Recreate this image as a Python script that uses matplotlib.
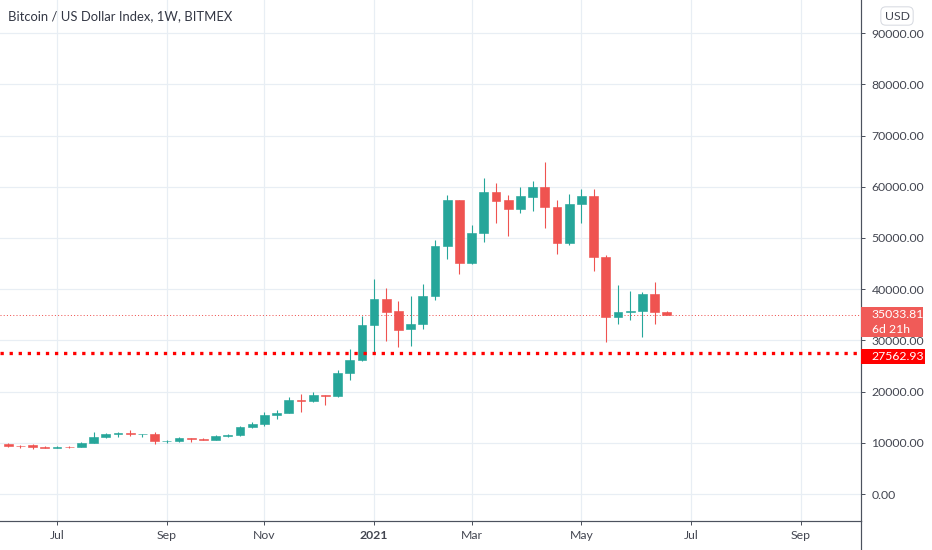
import matplotlib
matplotlib.use("Agg")
import matplotlib.pyplot as plt
import matplotlib.transforms as mtransforms
from matplotlib.patches import Rectangle
from matplotlib.lines import Line2D
import pandas as pd

# weekly candles, BTC / USD index (BITMEX), weeks starting Monday
first_week = "2020-06-08"
opens = [9750, 9380, 9480, 9180, 9080, 9250, 9160, 9900, 11100, 11700,
         11900, 11650, 11700, 10300, 10330, 10900, 10750, 10600, 11350, 11450,
         13000, 13650, 15450, 15900, 18450, 18200, 19300, 19150, 23550, 26200,
         33100, 38100, 35700, 32200, 33150, 38750, 48500, 57400, 45100, 50900,
         58900, 57400, 55700, 58100, 60000, 56100, 49100, 56600, 58200, 46300,
         34650, 35450, 35750, 39000, 35550]
highs = [9990, 9560, 9800, 9300, 9450, 9300, 10150, 12100, 11900, 12150,
         12480, 11750, 12080, 10580, 11100, 10950, 10950, 11450, 11720, 13300,
         14000, 15960, 16500, 18900, 19500, 19880, 19420, 24300, 28250, 34800,
         41990, 40170, 37700, 38650, 40950, 49600, 58400, 57500, 52500, 61800,
         60700, 58400, 60000, 61200, 64800, 57500, 58600, 59600, 59600, 46700,
         40800, 39650, 39400, 41350, 35800]
lows = [9250, 8950, 8850, 8950, 9050, 9050, 9100, 9900, 10950, 11100,
        11330, 11050, 9850, 9900, 10250, 10100, 10450, 10550, 11200, 11400,
        12800, 13250, 14600, 15800, 16100, 18000, 17400, 18900, 22250, 25900,
        27800, 29950, 28650, 28950, 32250, 37900, 45900, 42900, 45000, 49300,
        53000, 50300, 54800, 55300, 52000, 46800, 48700, 52900, 43600, 29750,
        33200, 34000, 30700, 33200, 34900]
closes = [9380, 9300, 9180, 9080, 9250, 9160, 9900, 11100, 11700, 11900,
          11650, 11700, 10300, 10330, 10900, 10750, 10600, 11350, 11450, 13000,
          13650, 15450, 15900, 18450, 18200, 19300, 19150, 23550, 26200, 33100,
          38100, 35600, 32050, 33150, 38750, 48500, 57400, 45100, 50900, 58900,
          57300, 55700, 58200, 60000, 56100, 49100, 56600, 58200, 46300, 34650,
          35500, 35750, 39000, 35450, 35033.81]

last_price = 35033.81
time_left = "6d 21h"
alert_price = 27562.93

price_ticks = [0, 10000, 20000, 30000, 40000, 50000, 60000, 70000, 80000, 90000]
tick_months = ["2020-07", "2020-09", "2020-11", "2021-01", "2021-03",
               "2021-05", "2021-07", "2021-09"]
tick_labels = ["Jul", "Sep", "Nov", "2021", "Mar", "May", "Jul", "Sep"]

GREEN = "#26a69a"
RED = "#ef5350"
GRID = "#e8eef4"
AXIS = "#4c525e"
TEXT = "#434651"
FONT = "Lato"
PX = 0.72  # one pixel in points at dpi 100

plt.rcParams["font.family"] = [FONT, "DejaVu Sans"]

fig = plt.figure(figsize=(9.32, 5.5), dpi=100)
ax = fig.add_axes([0, 29 / 550, 861 / 932, 521 / 550])

# bar index axis, like the trading view time scale (future weeks included)
all_weeks = pd.date_range(first_week, periods=72, freq="W-MON")
tick_pos = []
for m in tick_months:
    per = pd.Period(m)
    hit = [i for i, d in enumerate(all_weeks) if d.year == per.year and d.month == per.month]
    tick_pos.append(hit[0])

idx = list(range(len(opens)))
colors = [GREEN if c >= o else RED for o, c in zip(opens, closes)]
bottoms = [min(o, c) for o, c in zip(opens, closes)]
heights = [abs(c - o) for o, c in zip(opens, closes)]

ax.vlines(idx, lows, highs, colors=colors, lw=1.1 * PX, zorder=2)
ax.bar(idx, heights, bottom=bottoms, width=0.72, color=colors,
       edgecolor=colors, lw=0.6 * PX, zorder=3)

ax.axhline(last_price, color=RED, lw=1 * PX, ls=(0, (1, 2.2)), zorder=1.5)
ax.axhline(alert_price, color="#ff0000", lw=3.3 * PX, ls=(0, (1, 1.75)), zorder=4)

ax.set_xlim(-0.672, 69.92)
ax.set_ylim(-5273, 96484)

ax.set_xticks(tick_pos)
ax.set_xticklabels(tick_labels)
for lab in ax.get_xticklabels():
    if lab.get_text().isdigit():
        lab.set_fontweight("bold")
ax.set_yticks(price_ticks)
ax.set_yticklabels([f"{v:.2f}" for v in price_ticks])
ax.yaxis.tick_right()

ax.grid(True, color=GRID, lw=1.2 * PX)
ax.set_axisbelow(True)
for s in ["top", "left"]:
    ax.spines[s].set_visible(False)
for s in ["right", "bottom"]:
    ax.spines[s].set_color(AXIS)
    ax.spines[s].set_linewidth(1.2 * PX)
ax.tick_params(axis="y", colors=AXIS, labelcolor=TEXT, labelsize=8.8,
               length=4 * PX, width=1 * PX, pad=6.5 * PX)
ax.tick_params(axis="x", colors=AXIS, labelcolor=TEXT, labelsize=8.8,
               length=4 * PX, width=1 * PX, pad=5 * PX)

# price-scale line continues under the time scale
fig.add_artist(Line2D([861 / 932, 861 / 932], [0, 29 / 550], transform=fig.transFigure,
                      color=AXIS, lw=1.2 * PX))

# price labels on the scale
tr = mtransforms.blended_transform_factory(ax.transAxes, ax.transData)
unit = (96484 + 5273) / 521  # price per pixel
ax.add_patch(Rectangle((1.0, last_price - 22.5 * unit), 62 / 861, 30 * unit,
                       transform=tr, color="#f05b58", clip_on=False, zorder=10, lw=0))
ax.text(1 + 10.5 / 861, last_price, f"{last_price:.2f}", transform=tr, color="white",
        fontsize=8.8, va="center", ha="left", zorder=11, clip_on=False)
ax.text(1 + 10.5 / 861, last_price - 15 * unit, time_left, transform=tr, color="white",
        fontsize=8.8, va="center", ha="left", zorder=11, clip_on=False)
ax.add_patch(Rectangle((1.0, alert_price - 11 * unit), 64 / 861, 15 * unit,
                       transform=tr, color="#ff0000", clip_on=False, zorder=10, lw=0))
ax.text(1 + 10.5 / 861, alert_price - 3.5 * unit, f"{alert_price:.2f}", transform=tr,
        color="white", fontsize=8.8, va="center", ha="left", zorder=11, clip_on=False)

fig.text(897 / 932, 1 - 16 / 550, "USD", ha="center", va="center", fontsize=8.8,
         color=TEXT, bbox=dict(boxstyle="round,pad=0.3,rounding_size=0.4",
                               fc="white", ec="#d6d9e0", lw=1 * PX))

fig.text(8 / 932, 1 - 16 / 550, "Bitcoin / US Dollar Index, 1W, BITMEX", ha="left",
         va="center", fontsize=9.4, color="#333744")

fig.savefig("out.png", dpi=100)
